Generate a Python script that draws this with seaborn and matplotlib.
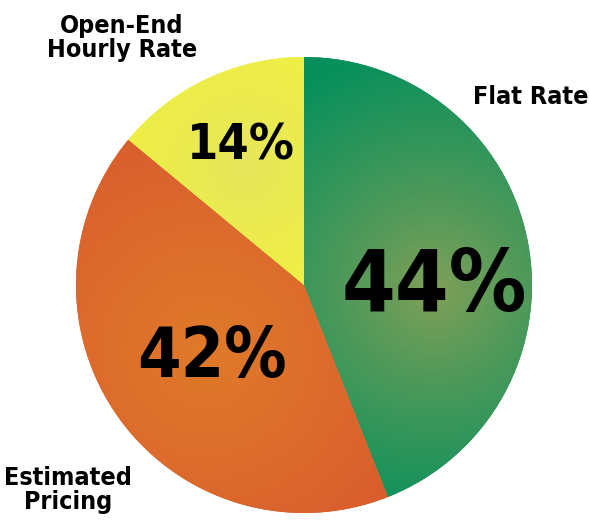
import numpy as np
import matplotlib
matplotlib.use("Agg")
import matplotlib.pyplot as plt
import seaborn as sns
from matplotlib.colors import to_rgb

sns.set_theme(style="white")
plt.rcParams['font.family'] = ['DejaVu Sans']
plt.rcParams['font.stretch'] = 'condensed'

# data
categories = ["Flat Rate", "Estimated\nPricing", "Open-End\nHourly Rate"]
shares = [44, 42, 14]

# radial gradient per slice: (inner colour, outer colour)
inner_colors = ["#82a058", "#e07c2a", "#e6e65c"]
outer_colors = ["#08905c", "#d95e2e", "#f2f23e"]
grad_centers = [(0.575, -0.02), (-0.43, -0.29), (-0.26, 0.52)]
grad_radius = [1.05, 1.0, 0.75]

fig = plt.figure(figsize=(5.9, 5.27), dpi=100)
cx, cy, r = 304, 285, 228
ax = fig.add_axes([(cx - r) / 590, (527 - cy - r) / 527, 2 * r / 590, 2 * r / 527])

wedges, _ = ax.pie(shares, startangle=90, counterclock=False,
                   colors=outer_colors, wedgeprops=dict(linewidth=0))
ax.set_xlim(-1, 1)
ax.set_ylim(-1, 1)
ax.set_aspect("equal")
ax.axis("off")

n = 400
xs = np.linspace(-1, 1, n)
gx, gy = np.meshgrid(xs, xs[::-1])
for w, ci, co, c, gr in zip(wedges, inner_colors, outer_colors, grad_centers, grad_radius):
    d = np.hypot(gx - c[0], gy - c[1])
    t = np.clip(d / gr, 0, 1)[..., None] ** 0.9
    img = np.array(to_rgb(ci)) * (1 - t) + np.array(to_rgb(co)) * t
    im = ax.imshow(img, extent=(-1, 1, -1, 1), origin="upper", zorder=2,
                   interpolation="bilinear")
    im.set_clip_path(w)


def to_data(px, py):
    return (px - cx) / r, (cy - py) / r


pct_pos = [(434, 287), (212, 357), (241, 146)]
pct_size = [62, 50, 36]
for val, p, s in zip(shares, pct_pos, pct_size):
    x, y = to_data(*p)
    ax.text(x, y, f"{val}%", ha="center", va="center", fontsize=s,
            fontweight="bold", color="black", zorder=5)

label_pos = [(531, 97), (68, 490), (122, 38)]
for lab, p in zip(categories, label_pos):
    x, y = to_data(*p)
    ax.text(x, y, lab, ha="center", va="center", fontsize=18,
            fontweight="bold", color="black", linespacing=1.05,
            zorder=5, clip_on=False)

fig.savefig("out.png", dpi=100)
